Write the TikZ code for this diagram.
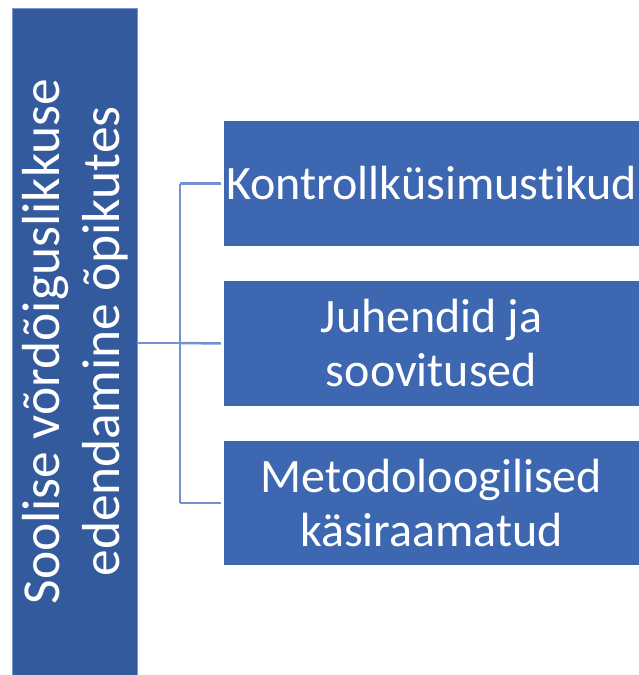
\documentclass[tikz,border=0pt]{standalone}
\usepackage{fontspec}
\setmainfont{Carlito}[Ligatures=NoCommon]
\definecolor{sidefill}{HTML}{335A9C}
\definecolor{sideedge}{HTML}{7A96CC}
\definecolor{itemfill}{HTML}{3D68B1}
\definecolor{linkline}{HTML}{7291D0}
\tikzset{
  sidebox/.style={draw=sideedge, line width=0.8pt, fill=sidefill, text=white, rotate=90,
    minimum width=667pt, minimum height=124.5pt, align=center,
    font=\fontsize{53.5}{60}\selectfont},
  itembox/.style={fill=itemfill, text=white, minimum width=415pt, minimum height=124.5pt,
    align=center, inner sep=0pt, font=\fontsize{48}{54}\selectfont},
  link/.style={draw=linkline, line width=2.5pt}
}
\begin{document}
\begin{tikzpicture}[x=1pt,y=-1pt]
        \useasboundingbox (0,0) rectangle (639,675);

        %Side box
        \node [sidebox] (side) at (74.75,341.5) {Soolise võrdõiguslikkuse\\edendamine õpikutes};

        %Items
        \node [itembox] (check) at (431.5,183.5) {Kontrollküsimustikud};
        \node [itembox] (guide) at (431.5,343.5) {Juhendid ja\\soovitused};
        \node [itembox] (books) at (431.5,503) {Metodoloogilised\\käsiraamatud};

        %Links
        \coordinate (fork) at (180,343);
        \draw [link] (side.south |- fork) -- (fork);
        \draw [link] (fork |- check) -- (fork |- books);
        \draw [link, shorten >=3pt] (fork |- check) -- (check.west);
        \draw [link, shorten >=3pt] (fork) -- (guide.west);
        \draw [link, shorten >=3pt] (fork |- books) -- (books.west);

\end{tikzpicture}
\end{document}
